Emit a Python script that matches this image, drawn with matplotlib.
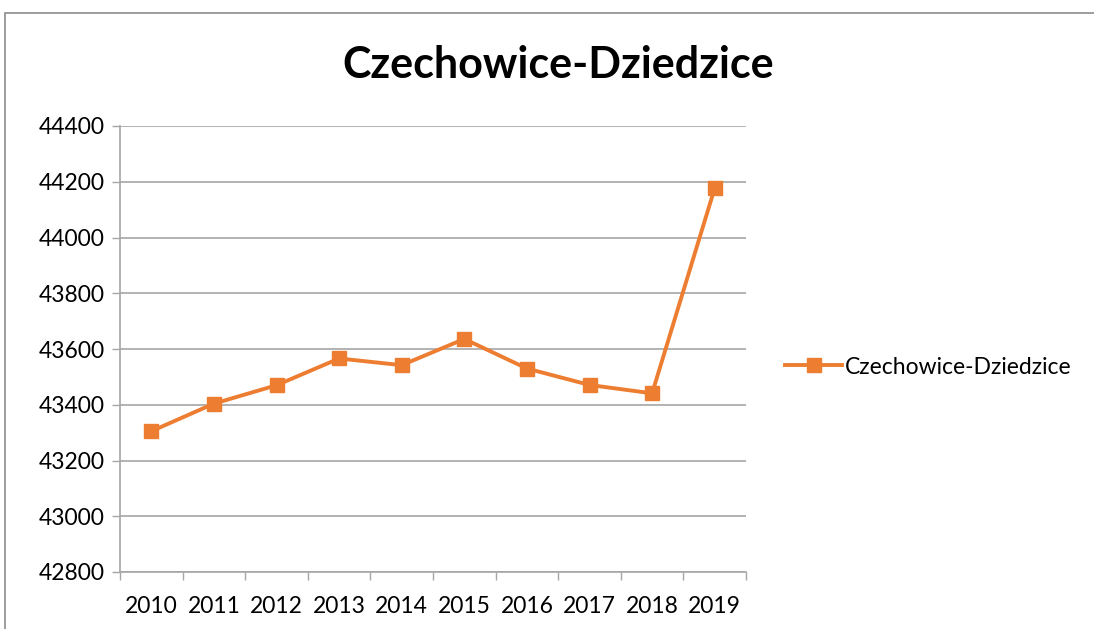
import numpy as np
import matplotlib.pyplot as plt
from matplotlib.patches import Rectangle

years = ['2010', '2011', '2012', '2013', '2014', '2015', '2016', '2017', '2018', '2019']
population = [43305, 43404, 43470, 43566, 43542, 43636, 43530, 43471, 43441, 44177]
series_name = 'Czechowice-Dziedzice'
title = 'Czechowice-Dziedzice'

plt.rcParams['font.family'] = ['Lato', 'DejaVu Sans']

W, H = 1094, 629
fig = plt.figure(figsize=(W / 100, H / 100), dpi=100)
ax = fig.add_axes([120 / W, 1 - 572 / H, (746 - 120) / W, (572 - 126) / H])

x = np.arange(len(years))
ax.plot(x, population, color='#ED7D31', lw=2.8, marker='s', ms=10,
        mec='#ED7D31', mfc='#ED7D31', label=series_name, zorder=3)

ax.set_xlim(-0.5, len(years) - 0.5)
ax.set_ylim(42800, 44400)
ax.set_yticks(np.arange(42800, 44401, 200))
ax.set_xticks(x)
ax.set_xticklabels(years)
ax.set_xticks(np.arange(-0.5, len(years)), minor=True)
ax.tick_params(axis='x', which='major', length=0, pad=17, labelsize=16.5)
ax.tick_params(axis='x', which='minor', length=6, color='#a6a6a6', width=1)
ax.tick_params(axis='y', length=6, color='#a6a6a6', width=1, labelsize=16.5, pad=5)
ax.yaxis.grid(True, color='#a6a6a6', lw=1.2)
ax.set_axisbelow(True)
for s in ['top', 'right']:
    ax.spines[s].set_visible(False)
for s in ['left', 'bottom']:
    ax.spines[s].set_color('#a6a6a6')
    ax.spines[s].set_linewidth(1.2)

fig.text(558 / W, 1 - 65 / H, title, ha='center', va='center',
         fontsize=31, fontweight='bold')

fig.legend(loc='center left', bbox_to_anchor=(785 / W, 1 - 367 / H), frameon=False,
           fontsize=16.5, handlelength=2.5, handletextpad=0.1,
           borderpad=0, borderaxespad=0)

fig.patches.append(Rectangle((5 / W, -0.1), 1.2, 1 - 13 / H + 0.1, transform=fig.transFigure,
                             fill=False, edgecolor='#8c8c8c', lw=1.2))

fig.savefig('out.png', dpi=100)
